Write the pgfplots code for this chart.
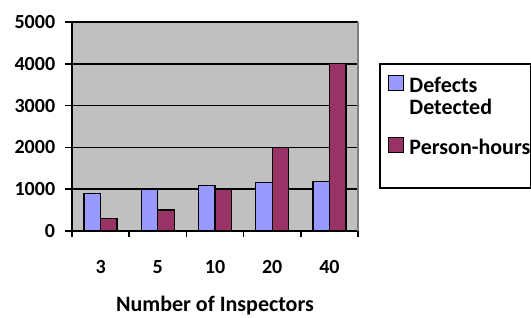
\documentclass[border=0pt]{standalone}
\usepackage{pgfplots}
\pgfplotsset{compat=1.18}
\usepackage{fontspec}
\setmainfont{Carlito}
\definecolor{barblue}{HTML}{9999FF}
\definecolor{barred}{HTML}{993366}
\definecolor{plotbg}{HTML}{C0C0C0}
\begin{document}
\fontsize{20pt}{22pt}\selectfont\bfseries
\begin{tikzpicture}[x=1pt,y=1pt]
\useasboundingbox (0,0) rectangle (531,317);
\begin{axis}[
  at={(72pt,86pt)}, anchor=south west,
  scale only axis, width=286pt, height=209pt,
  xmin=-0.5, xmax=4.5, ymin=0, ymax=5000,
  ybar=0pt, bar width=16.5pt,
  axis background/.style={fill=plotbg},
  axis x line*=bottom, axis y line*=left,
  axis line style={line width=1.5pt, black},
  xtick={0,1,2,3,4},
  xticklabels={3,5,10,20,40},
  minor xtick={-0.5,0.5,1.5,2.5,3.5,4.5},
  major x tick style={draw=none},
  minor x tick style={line width=1.5pt, black},
  minor tick length=6pt,
  ytick={0,1000,2000,3000,4000,5000},
  y tick style={line width=1.5pt, black},
  major tick length=7pt,
  tick align=outside,
  ymajorgrids, grid style={line width=1.5pt, black},
  /pgf/number format/assume math mode=true,
  /pgf/number format/1000 sep={},
  ticklabel style={font=\fontsize{20pt}{22pt}\selectfont\bfseries},
  xticklabel style={yshift=-15.5pt},
  yticklabel style={xshift=-3pt},
  xlabel={Number of Inspectors},
  xlabel style={font=\fontsize{22pt}{22pt}\selectfont\bfseries, yshift=-9pt},
  legend style={at={(rel axis cs:1.105,0.746)}, anchor=north west, draw=none, fill=none,
    inner sep=0pt, row sep=19pt, column sep=5pt,
    font=\fontsize{22pt}{22pt}\selectfont\bfseries,
    nodes={inner sep=0pt, align=left, anchor=north west}},
  legend cell align=left,
  legend image code/.code={\draw[#1, line width=1.2pt, draw=black] (0pt,-13.5pt) rectangle (15pt,1.5pt);},
  clip=false,
]
\addplot[fill=barblue, draw=black, line width=1.3pt] coordinates {(0,890) (1,1000) (2,1090) (3,1160) (4,1180)};
\addplot[fill=barred, draw=black, line width=1.3pt] coordinates {(0,300) (1,500) (2,1000) (3,2000) (4,4000)};
\legend{Defects\\Detected, Person-hours}
\draw[gray, line width=1.2pt] (rel axis cs:1,0) -- (rel axis cs:1,1);
\end{axis}
\draw[black, line width=1.2pt] (380,129) rectangle (530.4,253);
\end{tikzpicture}
\end{document}
